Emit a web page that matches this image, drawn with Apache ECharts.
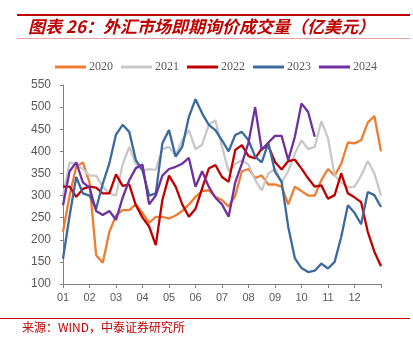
<!DOCTYPE html>
<html><head><meta charset="utf-8">
<script src="https://cdn.jsdelivr.net/npm/echarts@6/dist/echarts.min.js"></script>
<style>html,body{margin:0;padding:0;background:#fff}#c{width:413px;height:346px}</style>
</head><body><div id="c"></div>
<script>
// x positions: quarter-month steps from start of Jan (0) to end of Dec (12)
const monthLabels = ['01','02','03','04','05','06','07','08','09','10','11','12'];
const seriesNames = ['2020','2021','2022','2023','2024'];
const v2020 = [218,300,365,375,330,165,148,218,255,267,267,280,260,238,252,252,248,255,265,280,297,310,312,297,290,275,300,355,360,340,345,325,325,320,280,320,310,300,300,335,360,345,372,420,418,425,465,480,400];
const v2021 = [300,375,370,360,345,345,320,305,300,370,410,372,357,360,358,405,410,390,425,448,405,415,460,470,410,355,372,380,370,335,312,350,360,330,355,395,425,405,410,468,430,345,330,318,320,345,378,350,300];
const v2022 = [320,320,297,315,320,318,305,305,348,322,325,278,250,230,188,290,345,320,280,252,270,316,361,369,342,331,403,414,389,384,406,412,376,359,378,381,361,339,320,323,293,301,350,305,296,285,218,173,140];
const v2023 = [157,255,342,305,300,270,327,373,438,460,444,380,357,300,305,418,448,388,410,478,518,486,460,448,425,400,437,444,425,388,375,419,354,331,229,158,136,127,130,146,135,150,207,278,261,235,308,301,274];
const v2024 = [278,355,375,330,318,265,256,265,245,295,335,362,370,280,300,345,360,365,372,385,320,355,320,295,280,252,330,372,420,500,403,420,435,435,380,433,508,489,433];
const colors = ['#ED7D31','#C8C8C8','#C00000','#3A6A9E','#7030A0'];
const STEP = 0.25;
const allVals = [v2020, v2021, v2022, v2023, v2024];

const chart = echarts.init(document.getElementById('c'), null, {renderer:'canvas'});
const series = allVals.map((arr, k) => ({
  name: seriesNames[k], type: 'line', showSymbol: false, symbol: 'none',
  data: arr.map((v, i) => [i * STEP, v]),
  lineStyle: {width: 2.3, color: colors[k]}, itemStyle: {color: colors[k]},
  z: 2 + k
}));
const lab = {fontFamily: 'Liberation Sans, Arial, sans-serif', color: '#595959'};
chart.setOption({
  animation: false,
  backgroundColor: '#fff',
  grid: {left: 63, right: 32, top: 85, bottom: 62},
  legend: {
    data: seriesNames, left: 50, top: 56, itemWidth: 31, itemHeight: 3, itemGap: 8,
    icon: 'rect',
    textStyle: {fontFamily: 'Liberation Serif, DejaVu Serif, serif', fontSize: 12, color: '#595959', padding: [0,0,0,-2]}
  },
  xAxis: {
    type: 'value', min: 0, max: 12, interval: 1,
    axisLine: {lineStyle: {color: '#808080', width: 1}},
    axisTick: {show: true, length: 4, lineStyle: {color: '#808080'}},
    splitLine: {show: false},
    axisLabel: Object.assign({fontSize: 11, margin: 8, formatter: v => v < 12 ? monthLabels[v] : ''}, lab)
  },
  yAxis: {
    type: 'value', min: 100, max: 550, interval: 50,
    axisLine: {show: true, lineStyle: {color: '#808080', width: 1}},
    axisTick: {show: true, length: 3, lineStyle: {color: '#808080'}},
    splitLine: {show: false},
    axisLabel: Object.assign({fontSize: 12, margin: 12}, lab)
  },
  series: series,
  graphic: [
    {type: 'rect', shape: {x: 17, y: 14, width: 393, height: 2}, style: {fill: '#C00000'}},
    {type: 'rect', shape: {x: 17, y: 38, width: 393, height: 1}, style: {fill: '#E6A3A3'}},
    {type: 'text', left: 28, top: 18, style: {text: '图表 26：外汇市场即期询价成交量（亿美元）', fill: '#C00000',
      font: 'italic bold 17px "Noto Sans CJK SC", sans-serif'}},
    {type: 'rect', shape: {x: 0, y: 318, width: 410, height: 1}, style: {fill: '#C00000'}},
    {type: 'text', left: 22, top: 321, style: {text: '来源：WIND，中泰证券研究所', fill: '#C00000',
      font: '12px "Noto Sans CJK SC", sans-serif'}}
  ]
});
</script></body></html>
